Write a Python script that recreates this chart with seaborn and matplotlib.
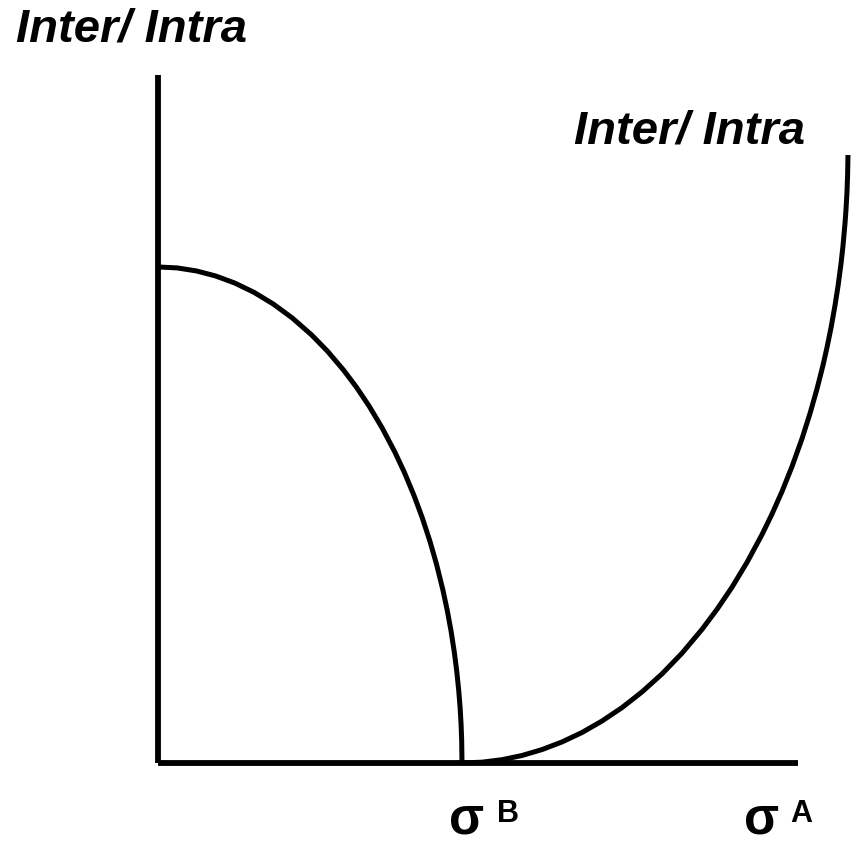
import numpy as np
import pandas as pd
import seaborn as sns
import matplotlib.pyplot as plt

# left curve (falls from the y axis down to sigma B)
inner_x = [0.0, 0.3, 0.6, 0.9, 1.2, 1.5, 1.8, 2.1, 2.4, 2.65, 2.9, 3.1, 3.3, 3.5, 3.7,
           3.85, 4.0, 4.13, 4.25, 4.35, 4.45, 4.52, 4.58, 4.63, 4.67, 4.70, 4.72, 4.735, 4.745, 4.75]
inner_y = [7.21, 7.196, 7.152, 7.079, 6.976, 6.841, 6.672, 6.467, 6.222, 5.984, 5.71, 5.463,
           5.186, 4.874, 4.521, 4.223, 3.888, 3.562, 3.22, 2.896, 2.521, 2.216, 1.912, 1.61,
           1.318, 1.043, 0.809, 0.573, 0.331, 0.0]

# right curve (rises from sigma B towards the top right)
outer_x = [4.75, 5.0625, 5.375, 5.6875, 6.0, 6.3125, 6.625, 6.9375, 7.25, 7.5625, 7.875,
           8.1875, 8.5, 8.734, 8.969, 9.203, 9.4375, 9.594, 9.75, 9.906, 10.0625, 10.1875,
           10.297, 10.391, 10.453, 10.516, 10.578, 10.625, 10.672, 10.703, 10.734, 10.75,
           10.766, 10.775, 10.781]
outer_y = [0.0, 0.012, 0.048, 0.109, 0.195, 0.306, 0.443, 0.61, 0.805, 1.033, 1.295,
           1.596, 1.942, 2.233, 2.555, 2.916, 3.32, 3.619, 3.946, 4.308, 4.714, 5.08,
           5.438, 5.783, 6.039, 6.326, 6.65, 6.929, 7.257, 7.517, 7.839, 8.044,
           8.31, 8.547, 8.837]

inner = pd.DataFrame({"x": inner_x, "y": inner_y})
outer = pd.DataFrame({"x": outer_x, "y": outer_y})

sns.set_style("white")
plt.rcParams["font.family"] = ["Liberation Sans", "DejaVu Sans"]
plt.rcParams["text.color"] = "black"

W, H = 852, 860
fig = plt.figure(figsize=(W / 100, H / 100), dpi=100)
ax = fig.add_axes([158 / W, (H - 763) / H, 704 / W, 688 / H])

for df in (inner, outer):
    sns.lineplot(data=df, x="x", y="y", sort=False, color="black", lw=3.6, ax=ax,
                 clip_on=False, solid_joinstyle="round", solid_capstyle="butt")

ax.set_xlim(0, 11)
ax.set_ylim(0, 10)
ax.set_xticks([])
ax.set_yticks([])
ax.set_xlabel("")
ax.set_ylabel("")
sns.despine(ax=ax, top=True, right=True)
for side in ["left", "bottom"]:
    ax.spines[side].set_linewidth(4.2)
    ax.spines[side].set_color("black")
    ax.spines[side].set_bounds(0, 10)
    ax.spines[side].set_capstyle("butt")

lab = dict(fontweight="bold", fontstyle="italic", fontsize=34, va="baseline", ha="left", color="black")
fig.text(16 / W, 1 - 42 / H, "Inter/ Intra", **lab)
fig.text(574 / W, 1 - 143 / H, "Inter/ Intra", **lab)

sig = dict(fontweight="bold", fontsize=37, va="baseline", ha="left", color="black")
sup = dict(fontweight="bold", fontsize=22, va="baseline", ha="left", color="black")
fig.text(449 / W, 1 - 834 / H, "σ", **sig)
fig.text(497 / W, 1 - 822 / H, "B", **sup)
fig.text(744 / W, 1 - 834 / H, "σ", **sig)
fig.text(790 / W, 1 - 822 / H, "A", **sup)

fig.savefig("out.png", dpi=100)
